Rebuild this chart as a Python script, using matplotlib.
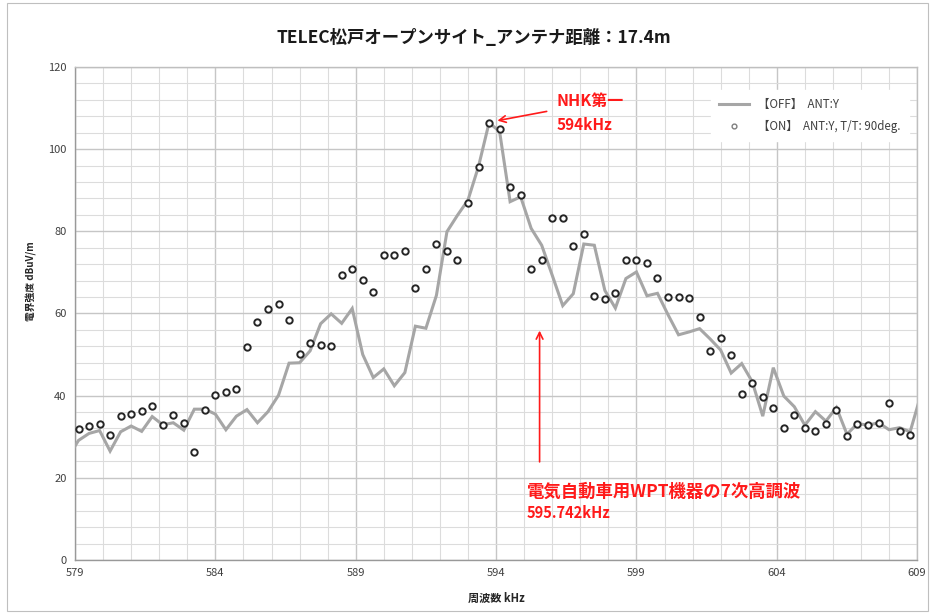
import numpy as np
import matplotlib
matplotlib.use("Agg")
import matplotlib.pyplot as plt
from matplotlib.patches import Rectangle

plt.rcParams['font.family'] = ['Noto Sans CJK JP', 'DejaVu Sans']

# ---- data ----
title = "TELEC松戸オープンサイト_アンテナ距離：17.4m"
x_label = "周波数 kHz"
y_label = "電界強度 dBuV/m"
x_ticks = [579, 584, 589, 594, 599, 604, 609]
y_ticks = [0, 20, 40, 60, 80, 100, 120]
label_off = "【OFF】  ANT:Y"
label_on = "【ON】  ANT:Y, T/T: 90deg."

# measurement frequencies (kHz), 0.375 kHz step
freq_on = np.arange(80) * 0.375 + 579.125
freq_off = np.arange(82) * 0.375 + 578.75

level_off = [25.0,
             29.1, 30.8, 31.5, 26.5, 31.2, 32.6, 31.3, 34.9, 32.9, 33.4,
             31.6, 36.7, 36.7, 35.5, 31.7, 35.0, 36.6, 33.4, 36.1, 40.1,
             47.9, 48.0, 50.9, 57.5, 59.9, 57.6, 61.2, 50.0, 44.4, 46.5,
             42.4, 45.6, 56.9, 56.4, 64.4, 79.9, 83.9, 87.6, 95.8, 106.4,
             104.3, 87.2, 88.4, 80.7, 76.6, 69.3, 61.9, 64.8, 76.9, 76.6,
             65.6, 61.3, 68.5, 70.1, 64.3, 64.9, 59.7, 54.8, 55.5, 56.3,
             53.8, 51.1, 45.5, 47.8, 43.4, 35.0, 46.8, 39.9, 37.3, 32.8,
             36.1, 33.8, 37.1, 30.6, 33.2, 32.8, 33.4, 31.7, 32.2, 31.2,
             40.0]

level_on = [31.8, 32.6, 33.2, 30.3, 35.1, 35.6, 36.3, 37.4, 32.9, 35.3,
            33.4, 26.3, 36.4, 40.2, 40.9, 41.6, 51.8, 58.0, 61.1, 62.4,
            58.3, 50.1, 52.8, 52.4, 52.1, 69.3, 70.7, 68.2, 65.2, 74.3,
            74.2, 75.1, 66.3, 70.7, 76.8, 75.3, 73.0, 87.0, 95.7, 106.4,
            105.0, 90.8, 88.8, 70.7, 73.0, 83.3, 83.3, 76.5, 79.4, 64.2,
            63.5, 64.9, 73.0, 73.0, 72.2, 68.7, 64.0, 64.0, 63.7, 59.1,
            50.9, 54.1, 49.8, 40.5, 43.0, 39.7, 37.1, 32.1, 35.2, 32.1,
            31.5, 33.2, 36.4, 30.2, 33.2, 32.9, 33.3, 38.2, 31.5, 30.3]

# ---- figure ----
fig = plt.figure(figsize=(9.33, 6.14), dpi=100)
fig.patches.append(Rectangle((0.007, 0.005), 0.988, 0.99, transform=fig.transFigure,
                             fill=False, edgecolor='#bfbfbf', linewidth=0.8))
ax = fig.add_axes([0.0804, 0.088, 0.9026, 0.803])

ax.plot(freq_off, level_off, color='#a6a6a6', linewidth=2.2, label=label_off,
        zorder=3, solid_joinstyle='miter')
ax.plot(freq_on, level_on, linestyle='none', marker='o', markersize=4.6,
        markerfacecolor='white', markeredgecolor='#262626', markeredgewidth=1.4,
        label=label_on, zorder=4)

ax.set_xlim(579, 609)
ax.set_ylim(0, 120)
ax.set_xticks(x_ticks)
ax.set_yticks(y_ticks)
ax.set_xticks(np.arange(579, 610, 1), minor=True)
ax.set_yticks(np.arange(0, 121, 4), minor=True)
ax.grid(which='major', color='#c6c6c6', linewidth=1.0, zorder=0)
ax.grid(which='minor', color='#dcdcdc', linewidth=0.8, zorder=0)
ax.set_axisbelow(True)
ax.tick_params(which='both', length=0, labelsize=8, labelcolor='#404040', pad=6)
for s in ax.spines.values():
    s.set_color('#bfbfbf')
    s.set_linewidth(1.0)
ax.spines['left'].set_color('#999999')
ax.spines['bottom'].set_color('#999999')

ax.set_xlabel(x_label, fontsize=8, fontweight='bold', color='#262626')
ax.xaxis.set_label_coords(0.5, -0.064)
ax.set_ylabel(y_label, fontsize=7, fontweight='bold', color='#262626')
ax.yaxis.set_label_coords(-0.045, 0.565)
fig.text(0.508, 0.938, title, ha='center', va='center', fontsize=12.5,
         fontweight='bold', color='#1a1a1a')

leg = ax.legend(loc='upper right', bbox_to_anchor=(0.997, 0.965), fontsize=8.3,
                frameon=True, fancybox=False, framealpha=1.0, edgecolor='white',
                handlelength=2.6, markerscale=0.75, borderpad=0.7, labelspacing=0.75)
for t in leg.get_texts():
    t.set_color('#404040')
leg.legend_handles[1].set_markeredgecolor('#7f7f7f')
leg.legend_handles[1].set_markeredgewidth(1.0)

red = '#ff1a1a'
ax.annotate("", xy=(593.95, 106.8), xytext=(595.9, 109.3),
            arrowprops=dict(arrowstyle='->', color=red, lw=1.2, mutation_scale=12))
ax.text(596.15, 111.8, "NHK第一", color=red, fontsize=11.5, fontweight='bold',
        ha='left', va='center')
ax.text(596.15, 105.9, "594kHz", color=red, fontsize=11, fontweight='bold',
        ha='left', va='center')

ax.annotate("", xy=(595.55, 56.5), xytext=(595.55, 23.2),
            arrowprops=dict(arrowstyle='->', color=red, lw=1.2, mutation_scale=12))
ax.text(595.09, 16.6, "電気自動車用WPT機器の7次高調波", color=red, fontsize=12.5,
        fontweight='bold', ha='left', va='center')
ax.text(595.09, 11.4, "595.742kHz", color=red, fontsize=10.5, fontweight='bold',
        ha='left', va='center')

fig.savefig("out.png", dpi=100)
